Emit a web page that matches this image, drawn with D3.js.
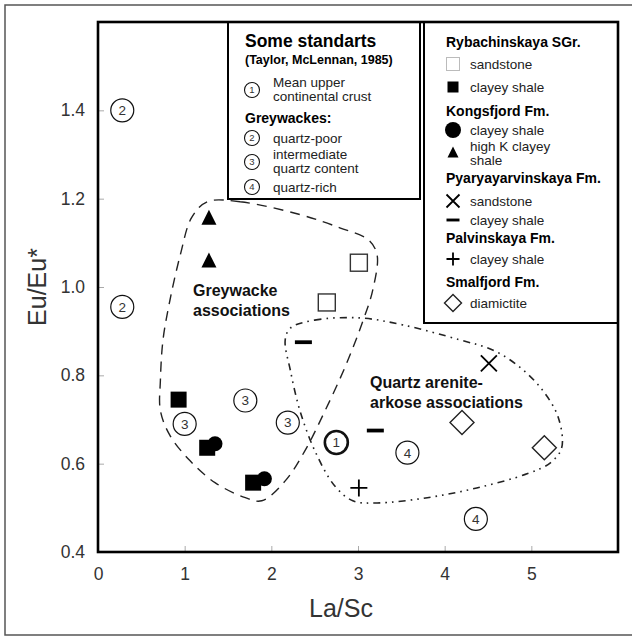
<!DOCTYPE html>
<html>
<head>
<meta charset="utf-8">
<script src="https://cdn.jsdelivr.net/npm/d3@7"></script>
<style>
  body { margin: 0; background: #fff; }
  text { font-family: "Liberation Sans", Arial, Helvetica, sans-serif; }
</style>
</head>
<body>
<svg id="svg"></svg>
<script>
// ---- data ----
let xTicks = [0, 1, 2, 3, 4, 5];
let yTicks = [0.4, 0.6, 0.8, 1.0, 1.2, 1.4];

// circled standards: [number, La/Sc, Eu/Eu*]
let standards = [
    [2, 0.28, 1.40], [2, 0.28, 0.955],
    [3, 1.70, 0.743], [3, 1.00, 0.690], [3, 2.19, 0.693],
    [1, 2.75, 0.648],
    [4, 3.57, 0.625], [4, 4.36, 0.475]
];
let rybSandstone = [[3.01, 1.055], [2.64, 0.965]];
let rybShale = [[0.93, 0.745], [1.26, 0.636], [1.79, 0.557]];
let kongShale = [[1.35, 0.645], [1.92, 0.566]];
let kongHighK = [[1.28, 1.158], [1.28, 1.061]];
let pyarSandstone = [[4.51, 0.827]];
let pyarShale = [[2.37, 0.875], [3.20, 0.675]];
let palvShale = [[3.01, 0.545]];
let smalDiamictite = [[4.20, 0.693], [5.15, 0.636]];

let greywackeEnvelope = [
    [1.26, 1.193], [1.64, 1.193], [2.33, 1.164], [2.79, 1.134], [3.12, 1.107],
    [3.22, 1.073], [3.17, 0.993], [3.06, 0.925], [2.86, 0.823], [2.62, 0.720],
    [2.39, 0.630], [2.16, 0.561], [1.89, 0.516], [1.70, 0.523], [1.35, 0.557],
    [1.06, 0.607], [0.83, 0.664], [0.72, 0.720], [0.72, 0.789], [0.75, 0.880],
    [0.83, 0.970], [0.95, 1.073], [1.08, 1.157]
];
let quartzEnvelope = [
    [2.22, 0.907], [2.50, 0.925], [3.02, 0.930], [3.52, 0.914], [4.18, 0.880],
    [4.56, 0.857], [4.87, 0.818], [5.13, 0.766], [5.31, 0.705], [5.35, 0.636],
    [5.22, 0.602], [4.95, 0.577], [4.37, 0.545], [3.80, 0.523], [3.22, 0.511],
    [2.94, 0.516], [2.73, 0.550], [2.50, 0.630], [2.33, 0.720], [2.22, 0.811],
    [2.16, 0.880]
];

let stdLegend = [
    [1, ["Mean upper", "continental crust"]],
    [2, ["quartz-poor"]],
    [3, ["intermediate", "quartz content"]],
    [4, ["quartz-rich"]]
];
// [kind, text or marker, label lines]
let unitLegend = [
    ["head", "Rybachinskaya SGr."],
    ["item", "openSquare", ["sandstone"]],
    ["item", "square", ["clayey shale"]],
    ["head", "Kongsfjord Fm."],
    ["item", "circle", ["clayey shale"]],
    ["item", "triangle", ["high K clayey", "shale"]],
    ["head", "Pyaryayarvinskaya Fm."],
    ["item", "cross", ["sandstone"]],
    ["item", "dash", ["clayey shale"]],
    ["head", "Palvinskaya Fm."],
    ["item", "plus", ["clayey shale"]],
    ["head", "Smalfjord Fm."],
    ["item", "diamond", ["diamictite"]]
];

// ---- chart ----
let width = 632, height = 637;
let svg = d3.select("#svg").attr("width", width).attr("height", height);

svg.append("rect").attr("x", 5).attr("y", 5).attr("width", 630).attr("height", 630)
    .attr("fill", "#fff").attr("stroke", "#555").attr("stroke-width", 1.5);

let x = d3.scaleLinear().domain([0, 6]).range([98, 618]);
let y = d3.scaleLinear().domain([0.4, 1.6]).range([552, 22]);

// axes with inward gray ticks
let xAxis = svg.append("g").attr("transform", `translate(0,${y(0.4)})`)
    .call(d3.axisBottom(x).tickValues(xTicks).tickFormat(d3.format("d"))
        .tickSizeInner(-6).tickSizeOuter(0).tickPadding(16));
let yAxis = svg.append("g").attr("transform", `translate(${x(0)},0)`)
    .call(d3.axisLeft(y).tickValues(yTicks).tickFormat(d3.format(".1f"))
        .tickSizeInner(-6).tickSizeOuter(0).tickPadding(13));
[xAxis, yAxis].forEach(function(a) {
    a.select(".domain").remove();
    a.selectAll("line").attr("stroke", "#aaa");
    a.selectAll("text").attr("font-size", 17.5).attr("fill", "#333")
        .attr("font-family", "Liberation Sans, Arial, sans-serif");
});

svg.append("text").attr("x", 341).attr("y", 617).attr("text-anchor", "middle")
    .attr("font-size", 25).attr("fill", "#333").text("La/Sc");
svg.append("text").attr("transform", "translate(46,287) rotate(-90)")
    .attr("text-anchor", "middle").attr("font-size", 25).attr("fill", "#333").text("Eu/Eu*");

// envelopes
let env = d3.line().x(d => x(d[0])).y(d => y(d[1])).curve(d3.curveCatmullRomClosed.alpha(0.5));
svg.append("path").attr("d", env(greywackeEnvelope)).attr("fill", "none")
    .attr("stroke", "#222").attr("stroke-width", 1.4).attr("stroke-dasharray", "10,7");
svg.append("path").attr("d", env(quartzEnvelope)).attr("fill", "none")
    .attr("stroke", "#222").attr("stroke-width", 1.6).attr("stroke-dasharray", "7,5,1.6,5,1.6,5");

// marker helper
function marker(g, type, s) {
    if (type === "openSquare" || type === "square") {
        g.append("rect").attr("x", -s / 2).attr("y", -s / 2).attr("width", s).attr("height", s)
            .attr("fill", type === "square" ? "#000" : "#fff")
            .attr("stroke", type === "square" ? "none" : "#333").attr("stroke-width", 1.4);
    } else if (type === "circle") {
        g.append("circle").attr("r", s / 2).attr("fill", "#000");
    } else if (type === "triangle") {
        g.append("path").attr("d", `M0,${-s / 2}L${s / 2},${s / 2}L${-s / 2},${s / 2}Z`).attr("fill", "#000");
    } else if (type === "cross") {
        g.append("path").attr("d", `M${-s / 2},${-s / 2}L${s / 2},${s / 2}M${s / 2},${-s / 2}L${-s / 2},${s / 2}`)
            .attr("stroke", "#000").attr("stroke-width", 1.8);
    } else if (type === "dash") {
        g.append("path").attr("d", `M${-s / 2},0H${s / 2}`).attr("stroke", "#000").attr("stroke-width", s / 4.5);
    } else if (type === "plus") {
        g.append("path").attr("d", `M${-s / 2},0H${s / 2}M0,${-s / 2}V${s / 2}`)
            .attr("stroke", "#000").attr("stroke-width", 1.8);
    } else if (type === "diamond") {
        g.append("path").attr("d", `M0,${-s / 2}L${s / 2},0L0,${s / 2}L${-s / 2},0Z`)
            .attr("fill", "#fff").attr("stroke", "#222").attr("stroke-width", 1.4);
    }
}

let series = [
    [rybSandstone, "openSquare", 17], [rybShale, "square", 16],
    [kongShale, "circle", 15], [kongHighK, "triangle", 15],
    [pyarSandstone, "cross", 16], [pyarShale, "dash", 17],
    [palvShale, "plus", 17], [smalDiamictite, "diamond", 24]
];
series.forEach(function(s) {
    svg.append("g").selectAll("g").data(s[0]).join("g")
        .attr("transform", d => `translate(${x(d[0])},${y(d[1])})`)
        .each(function() { marker(d3.select(this), s[1], s[2]); });
});

// circled standards
let std = svg.append("g").selectAll("g").data(standards).join("g")
    .attr("transform", d => `translate(${x(d[1])},${y(d[2])})`);
std.append("circle").attr("r", 11.5).attr("fill", "none").attr("stroke", "#111")
    .attr("stroke-width", d => d[0] === 1 ? 2.6 : 1.2);
std.append("text").attr("text-anchor", "middle").attr("dy", "0.36em")
    .attr("font-size", 13.5).attr("fill", "#333").text(d => d[0]);

// labels in the plot
function lines(xp, yp, arr, size, lh) {
    let t = svg.append("text").attr("font-size", size).attr("font-weight", "bold").attr("fill", "#111");
    arr.forEach((s, i) => t.append("tspan").attr("x", xp).attr("y", yp + i * lh).text(s));
}
lines(193, 296, ["Greywacke", "associations"], 16, 20);
lines(370, 388, ["Quartz arenite-", "arkose associations"], 16, 20);

// legend 1: standards
svg.append("rect").attr("x", 228).attr("y", 22).attr("width", 192).attr("height", 177)
    .attr("fill", "#fff").attr("stroke", "#000").attr("stroke-width", 2);
svg.append("text").attr("x", 245).attr("y", 47).attr("font-size", 17.5).attr("font-weight", "bold").text("Some standarts");
svg.append("text").attr("x", 245).attr("y", 64).attr("font-size", 12.5).attr("font-weight", "bold").text("(Taylor, McLennan, 1985)");
svg.append("text").attr("x", 245).attr("y", 123).attr("font-size", 14).attr("font-weight", "bold").text("Greywackes:");
let stdY = [90, 138, 162, 187];
stdLegend.forEach(function(d, i) {
    let g = svg.append("g").attr("transform", `translate(252,${stdY[i]})`);
    g.append("circle").attr("r", 7.5).attr("fill", "none").attr("stroke", "#111").attr("stroke-width", 1.1);
    g.append("text").attr("text-anchor", "middle").attr("dy", "0.36em").attr("font-size", 9.5).attr("fill", "#333").text(d[0]);
    let t = g.append("text").attr("font-size", 13.5).attr("fill", "#222");
    let y0 = d[1].length > 1 ? -3 : 5;
    d[1].forEach((s, j) => t.append("tspan").attr("x", 21).attr("y", y0 + j * 13.5).text(s));
});

// legend 2: units
svg.append("rect").attr("x", 424).attr("y", 22).attr("width", 194).attr("height", 301)
    .attr("fill", "#fff").attr("stroke", "#000").attr("stroke-width", 2);
let rowY = [47, 64, 87, 116, 130, 152, 183, 201, 220, 243, 259, 287, 303];
let legendSize = { openSquare: 13, square: 11, circle: 16, triangle: 11, cross: 13, dash: 13, plus: 13, diamond: 17 };
unitLegend.forEach(function(d, i) {
    if (d[0] === "head") {
        svg.append("text").attr("x", 446).attr("y", rowY[i]).attr("font-size", 14)
            .attr("font-weight", "bold").text(d[1]);
    } else {
        let g = svg.append("g").attr("transform", `translate(453,${rowY[i]})`);
        marker(g, d[1], legendSize[d[1]]);
        if (d[1] === "openSquare") g.select("rect").attr("stroke", "#bbb").attr("stroke-width", 1);
        let t = g.append("text").attr("font-size", 13.5).attr("fill", "#222");
        let y0 = d[2].length > 1 ? -1 : 5;
        d[2].forEach((s, j) => t.append("tspan").attr("x", 17).attr("y", y0 + j * 13.5).text(s));
    }
});

// plot frame on top
svg.append("rect").attr("x", x(0)).attr("y", y(1.6)).attr("width", x(6) - x(0)).attr("height", y(0.4) - y(1.6))
    .attr("fill", "none").attr("stroke", "#000").attr("stroke-width", 2.6);
</script>
</body>
</html>
